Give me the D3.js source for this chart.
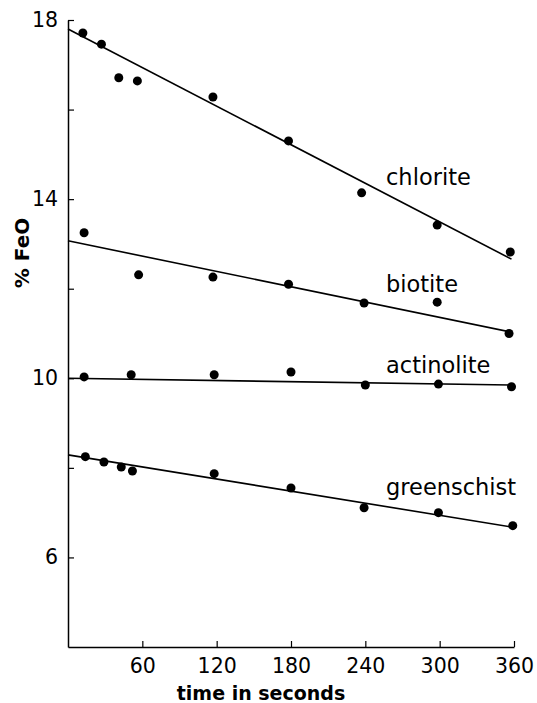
<!DOCTYPE html>
<html>
<head>
<meta charset="utf-8">
<script src="https://cdn.jsdelivr.net/npm/d3@7"></script>
<style>
  body { margin: 0; background: #fff; }
  text { font-family: "DejaVu Sans", sans-serif; fill: #000; }
</style>
</head>
<body>
<script>
// time (s) and %FeO
const chloriteT = [12, 27, 41, 56, 117, 178, 237, 298, 357];
const chloriteV = [17.71, 17.46, 16.71, 16.64, 16.28, 15.30, 14.14, 13.42, 12.82];
const biotiteT = [13, 57, 117, 178, 239, 298, 356];
const biotiteV = [13.25, 12.31, 12.26, 12.10, 11.68, 11.70, 11.00];
const actinoliteT = [13, 51, 118, 180, 240, 299, 358];
const actinoliteV = [10.03, 10.08, 10.08, 10.14, 9.85, 9.87, 9.81];
const greenschistT = [14, 29, 43, 52, 118, 180, 239, 299, 359];
const greenschistV = [8.25, 8.13, 8.02, 7.93, 7.87, 7.55, 7.11, 7.00, 6.71];

// fitted lines: value at start and end time
const fitT = [0, 358];
const chloriteFit = [17.8, 12.66];
const biotiteFit = [13.07, 11.03];
const actinoliteFit = [10.0, 9.85];
const greenschistFit = [8.29, 6.68];

const seriesNames = ["chlorite", "biotite", "actinolite", "greenschist"];
const xTicks = [60, 120, 180, 240, 300, 360];
const yTicks = [6, 8, 10, 12, 14, 16, 18];
const yTickLabels = ["6", "", "10", "", "14", "", "18"];

const width = 537, height = 703;
const margin = {top: 20, right: 23, bottom: 56, left: 68};

const x = d3.scaleLinear().domain([0, 360]).range([margin.left, width - margin.right]);
const y = d3.scaleLinear().domain([4, 18]).range([height - margin.bottom, margin.top]);

const svg = d3.select("body").append("svg")
    .attr("width", width)
    .attr("height", height);

const series = [
  {name: seriesNames[0], t: chloriteT, v: chloriteV, fit: chloriteFit, lx: 386, ly: 185},
  {name: seriesNames[1], t: biotiteT, v: biotiteV, fit: biotiteFit, lx: 386, ly: 292},
  {name: seriesNames[2], t: actinoliteT, v: actinoliteV, fit: actinoliteFit, lx: 386, ly: 373},
  {name: seriesNames[3], t: greenschistT, v: greenschistV, fit: greenschistFit, lx: 386, ly: 495}
];

// axes
const xAxis = d3.axisBottom(x).tickValues(xTicks).tickSizeInner(-6).tickSizeOuter(0).tickPadding(11);
const yAxis = d3.axisLeft(y).tickValues(yTicks).tickSizeInner(-6).tickSizeOuter(0).tickPadding(10)
    .tickFormat((d, i) => yTickLabels[i]);

const gx = svg.append("g").attr("transform", "translate(0," + y(4) + ")").call(xAxis);
const gy = svg.append("g").attr("transform", "translate(" + x(0) + ",0)").call(yAxis);

[gx, gy].forEach(g => {
  g.select(".domain").attr("stroke", "#000").attr("stroke-width", 1.5);
  g.selectAll(".tick line").attr("stroke", "#000").attr("stroke-width", 1.2);
  g.selectAll(".tick text").attr("font-size", 20.5).attr("fill", "#000")
    .style("font-family", "DejaVu Sans, sans-serif");
});

const line = d3.line().x(d => x(d[0])).y(d => y(d[1]));

series.forEach(s => {
  svg.append("path")
      .datum(fitT.map((t, i) => [t, s.fit[i]]))
      .attr("d", line)
      .attr("fill", "none")
      .attr("stroke", "#000")
      .attr("stroke-width", 1.6);

  svg.append("g").selectAll("circle")
      .data(s.t.map((t, i) => [t, s.v[i]]))
      .enter().append("circle")
        .attr("cx", d => x(d[0]))
        .attr("cy", d => y(d[1]))
        .attr("r", 4.5)
        .attr("fill", "#000");

  svg.append("text")
      .attr("x", s.lx)
      .attr("y", s.ly)
      .attr("font-size", 22.5)
      .text(s.name);
});

svg.append("text")
    .attr("x", 261)
    .attr("y", 700)
    .attr("text-anchor", "middle")
    .attr("font-size", 19)
    .attr("font-weight", "bold")
    .text("time in seconds");

svg.append("text")
    .attr("transform", "translate(29,253) rotate(-90)")
    .attr("text-anchor", "middle")
    .attr("font-size", 20)
    .attr("font-weight", "bold")
    .text("% FeO");
</script>
</body>
</html>
